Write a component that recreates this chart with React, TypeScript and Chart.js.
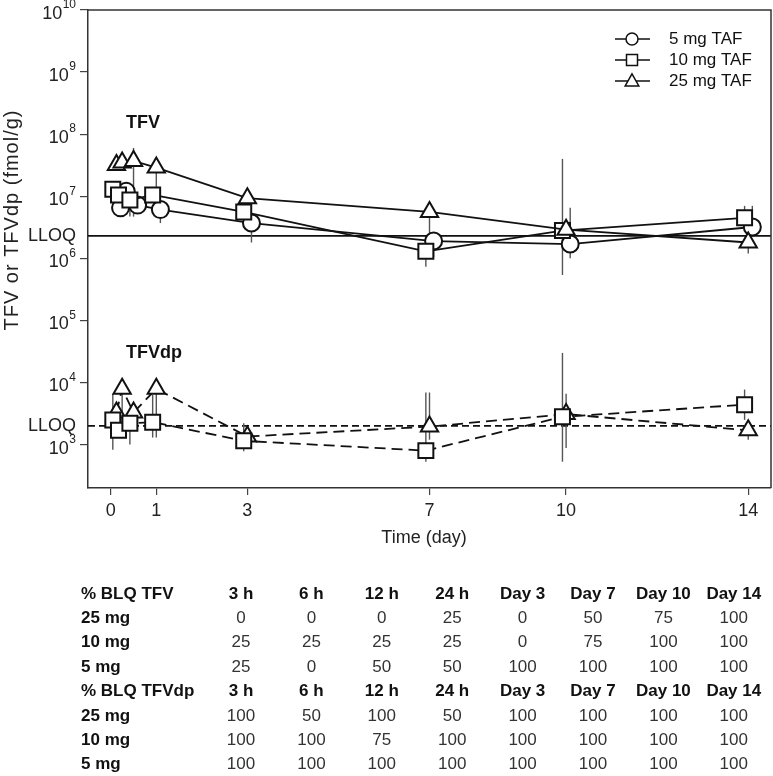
import React, { useEffect, useRef } from 'react';
import Chart from 'chart.js/auto';

const FONT = '"Liberation Sans", Arial, sans-serif';

// sampling times in days: 3 h, 6 h, 12 h, 24 h, day 3, 7, 10, 14
const timeDays = [0.125, 0.25, 0.5, 1, 3, 7, 10, 14];
// the dose groups are nudged sideways a little in the original figure
const shift5 = 0.09;
const shift10 = -0.08;
const shift25 = 0;

const doseLabels = ['5 mg TAF', '10 mg TAF', '25 mg TAF'];

// TFV (fmol/g)
const tfv5 = [6.5e6, 1.2e7, 7.2e6, 6.1e6, 3.7e6, 1.9e6, 1.7e6, 3.2e6];
const tfv10 = [1.3e7, 1.05e7, 8.7e6, 1.05e7, 5.6e6, 1.3e6, 2.8e6, 4.5e6];
const tfv25 = [3.2e7, 3.5e7, 3.7e7, 2.9e7, 9.3e6, 5.6e6, 2.9e6, 1.8e6];
// TFVdp (fmol/g), nothing plotted for 5 mg
const tfvdp10 = [2.5e3, 1.7e3, 2.2e3, 2.3e3, 1.15e3, 800, 2.8e3, 4.4e3];
const tfvdp25 = [3.3e3, 7.9e3, 3.3e3, 7.9e3, 1.35e3, 1.95e3, 3.1e3, 1.7e3];

// error bar ranges [low, high]
type Range = [number, number] | null;
const tfv5Err: Range[] = [null, null, null, [3.7e6, 7.0e6], [1.8e6, 4.5e6], [1.05e6, 2.5e6], [1.0e6, 6.5e6], [2.4e6, 7.0e6]];
const tfv10Err: Range[] = [null, null, [4.7e6, 1.1e7], null, [4.5e6, 7.0e6], [7.3e5, 1.6e6], [5.4e5, 4.0e7], [3.5e6, 7.0e6]];
const tfv25Err: Range[] = [[2.6e7, 4.2e7], [2.8e7, 4.5e7], [4.7e6, 6.0e7], [1.3e7, 3.5e7], [6.5e6, 1.1e7], [1.5e6, 6.0e6], null, [1.2e6, 1.9e6]];
const tfvdp10Err: Range[] = [[830, 6.6e3], null, [1.0e3, 2.2e3], [1.3e3, 6.3e3], [780, 2.2e3], [530, 6.9e3], [530, 3.0e4], [2.5e3, 7.7e3]];
const tfvdp25Err: Range[] = [null, [2.0e3, 7.9e3], null, [1.3e3, 7.9e3], null, [1.2e3, 6.9e3], [880, 6.6e3], [1.2e3, 1.7e3]];

const lloqTfv = 2.3e6;
const lloqTfvdp = 2.0e3;

const xTicks = [0, 1, 3, 7, 10, 14];
const yExponents = [3, 4, 5, 6, 7, 8, 9, 10];

// % BLQ table
const tableCols = ['3 h', '6 h', '12 h', '24 h', 'Day 3', 'Day 7', 'Day 10', 'Day 14'];
const blqTfv25 = [0, 0, 0, 25, 0, 50, 75, 100];
const blqTfv10 = [25, 25, 25, 25, 0, 75, 100, 100];
const blqTfv5 = [25, 0, 50, 50, 100, 100, 100, 100];
const blqTfvdp25 = [100, 50, 100, 50, 100, 100, 100, 100];
const blqTfvdp10 = [100, 100, 75, 100, 100, 100, 100, 100];
const blqTfvdp5 = [100, 100, 100, 100, 100, 100, 100, 100];

const errSets = [tfv25Err, tfv10Err, tfv5Err, tfvdp10Err, tfvdp25Err];

function drawMarker(ctx: CanvasRenderingContext2D, style: string, x: number, y: number, r: number) {
  ctx.beginPath();
  if (style === 'circle') {
    ctx.arc(x, y, r, 0, Math.PI * 2);
  } else if (style === 'rect') {
    ctx.rect(x - r, y - r, 2 * r, 2 * r);
  } else {
    ctx.moveTo(x, y - r * 1.1);
    ctx.lineTo(x + r * 1.05, y + r * 0.75);
    ctx.lineTo(x - r * 1.05, y + r * 0.75);
    ctx.closePath();
  }
  ctx.fillStyle = '#fff';
  ctx.fill();
  ctx.stroke();
}

const overlay = {
  id: 'overlay',
  beforeDatasetsDraw(chart: any) {
    const { ctx, chartArea: a } = chart;
    const y = chart.scales.y;
    ctx.save();
    ctx.strokeStyle = '#111';
    ctx.lineWidth = 1.7;
    let py = y.getPixelForValue(lloqTfv);
    ctx.beginPath();
    ctx.moveTo(a.left, py);
    ctx.lineTo(a.right, py);
    ctx.stroke();
    py = y.getPixelForValue(lloqTfvdp);
    ctx.setLineDash([7, 4]);
    ctx.beginPath();
    ctx.moveTo(a.left, py);
    ctx.lineTo(a.right, py);
    ctx.stroke();
    ctx.setLineDash([]);

    // error bars
    ctx.strokeStyle = '#555';
    ctx.lineWidth = 1.4;
    errSets.forEach((errs, di) => {
      const meta = chart.getDatasetMeta(di);
      meta.data.forEach((pt: any, i: number) => {
        const r = errs[i];
        if (!r) return;
        ctx.beginPath();
        ctx.moveTo(pt.x, y.getPixelForValue(r[0]));
        ctx.lineTo(pt.x, y.getPixelForValue(r[1]));
        ctx.stroke();
      });
    });
    ctx.restore();
  },
  afterDraw(chart: any) {
    const { ctx, chartArea: a } = chart;
    const y = chart.scales.y;
    ctx.save();

    // top and right frame
    ctx.strokeStyle = '#333';
    ctx.lineWidth = 1.5;
    ctx.beginPath();
    ctx.moveTo(a.left, a.top);
    ctx.lineTo(a.right, a.top);
    ctx.lineTo(a.right, a.bottom);
    ctx.stroke();

    // y tick labels 10^n
    ctx.fillStyle = '#222';
    ctx.textBaseline = 'middle';
    ctx.textAlign = 'right';
    yExponents.forEach((e) => {
      const py = y.getPixelForValue(10 ** e);
      ctx.font = `12px ${FONT}`;
      const ew = ctx.measureText(String(e)).width;
      ctx.fillText(String(e), 76, py - 5);
      ctx.font = `18px ${FONT}`;
      ctx.fillText('10', 76 - ew - 0.5, py + 4);
    });
    ctx.font = `18px ${FONT}`;
    ctx.fillText('LLOQ', 76, y.getPixelForValue(lloqTfv));
    ctx.fillText('LLOQ', 76, y.getPixelForValue(lloqTfvdp));

    // axis titles
    ctx.save();
    ctx.translate(12, 220);
    ctx.rotate(-Math.PI / 2);
    ctx.textAlign = 'center';
    ctx.font = `20px ${FONT}`;
    (ctx as any).letterSpacing = '1px';
    ctx.fillText('TFV or TFVdp (fmol/g)', 0, 0);
    ctx.restore();
    ctx.textAlign = 'center';
    ctx.font = `18px ${FONT}`;
    ctx.fillText('Time (day)', 424, 538);

    // group labels
    ctx.textAlign = 'left';
    ctx.font = `bold 18px ${FONT}`;
    ctx.fillStyle = '#111';
    ctx.fillText('TFV', 126, 123);
    ctx.fillText('TFVdp', 126, 353);

    // legend
    const styles = ['circle', 'rect', 'triangle'];
    const radii = [6, 5.5, 6.5];
    doseLabels.forEach((label, i) => {
      const ly = 39 + 21 * i;
      ctx.strokeStyle = '#111';
      ctx.lineWidth = 1.5;
      ctx.beginPath();
      ctx.moveTo(615, ly);
      ctx.lineTo(650, ly);
      ctx.stroke();
      drawMarker(ctx, styles[i], 632, ly, radii[i]);
      ctx.fillStyle = '#111';
      ctx.font = `17px ${FONT}`;
      ctx.fillText(label, 669, ly);
    });

    // table
    const rows: [string, (string | number)[], boolean][] = [
      ['% BLQ TFV', tableCols, true],
      ['25 mg', blqTfv25, false],
      ['10 mg', blqTfv10, false],
      ['5 mg', blqTfv5, false],
      ['% BLQ TFVdp', tableCols, true],
      ['25 mg', blqTfvdp25, false],
      ['10 mg', blqTfvdp10, false],
      ['5 mg', blqTfvdp5, false],
    ];
    const colStart = 241;
    const colStep = 70.4;
    rows.forEach(([label, vals, head], r) => {
      const ry = 594 + 24.4 * r;
      ctx.fillStyle = '#111';
      ctx.textAlign = 'left';
      ctx.font = `bold 17px ${FONT}`;
      ctx.fillText(label, 81, ry);
      ctx.textAlign = 'center';
      ctx.font = head ? `bold 17px ${FONT}` : `17px ${FONT}`;
      ctx.fillStyle = head ? '#111' : '#333';
      vals.forEach((v, c) => ctx.fillText(String(v), colStart + colStep * c, ry));
    });
    ctx.restore();
  },
};

function series(label: string, values: number[], shift: number, style: string, radius: number, dashed: boolean) {
  return {
    label,
    data: values.map((v, i) => ({ x: timeDays[i] + shift, y: v })),
    borderColor: '#111',
    borderWidth: 1.8,
    borderDash: dashed ? [11, 6] : [],
    pointStyle: style,
    pointRadius: radius,
    pointBorderWidth: 2,
    pointBackgroundColor: '#fff',
    pointBorderColor: '#111',
    fill: false,
    tension: 0,
  };
}

export default function App() {
  const canvasRef = useRef<HTMLCanvasElement | null>(null);

  useEffect(() => {
    const canvas = canvasRef.current;
    if (!canvas) return;

    const chart = new Chart(canvas, {
      type: 'line',
      data: {
        datasets: [
          series('25 mg TFV', tfv25, shift25, 'triangle', 10, false),
          series('10 mg TFV', tfv10, shift10, 'rect', 10.6, false),
          series('5 mg TFV', tfv5, shift5, 'circle', 8.5, false),
          series('10 mg TFVdp', tfvdp10, shift10, 'rect', 10.6, true),
          series('25 mg TFVdp', tfvdp25, shift25, 'triangle', 10, true),
        ] as any,
      },
      options: {
        animation: false,
        responsive: true,
        maintainAspectRatio: false,
        layout: { padding: { left: 0, top: 10, right: 2, bottom: 0 }, autoPadding: false },
        plugins: { legend: { display: false }, tooltip: { enabled: false } },
        scales: {
          x: {
            type: 'linear',
            min: -0.5,
            max: 14.5,
            afterBuildTicks: (s: any) => {
              s.ticks = xTicks.map((v) => ({ value: v }));
            },
            afterFit: (s: any) => {
              s.height = 288;
            },
            grid: { drawOnChartArea: false, drawTicks: true, tickLength: 7, color: '#444', lineWidth: 1.2 },
            border: { display: true, color: '#333', width: 1.5 },
            ticks: { font: { family: FONT, size: 18 }, color: '#222', padding: 5, maxRotation: 0, autoSkip: false },
          },
          y: {
            type: 'logarithmic',
            min: 200,
            max: 1e10,
            afterBuildTicks: (s: any) => {
              s.ticks = yExponents.map((e) => ({ value: 10 ** e }));
            },
            afterFit: (s: any) => {
              s.width = 88;
            },
            grid: { drawOnChartArea: false, drawTicks: true, tickLength: 8, color: '#444', lineWidth: 1.2 },
            border: { display: true, color: '#333', width: 1.5 },
            ticks: { display: false },
          },
        },
      } as any,
      plugins: [overlay],
    });

    return () => {
      chart.destroy();
    };
  }, []);

  return (
    <div style={{ position: 'absolute', left: 0, top: 0, width: 773, height: 776 }}>
      <canvas ref={canvasRef}></canvas>
    </div>
  );
}
